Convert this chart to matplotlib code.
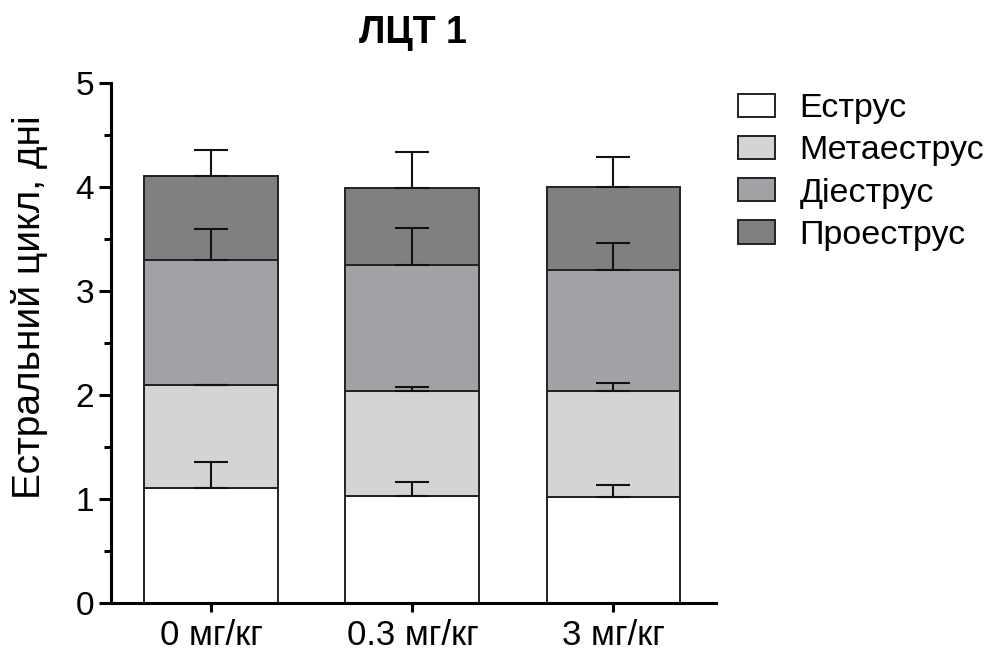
import matplotlib.pyplot as plt
import numpy as np
from matplotlib.patches import Patch

plt.rcParams['font.family'] = ['Liberation Sans', 'DejaVu Sans']

groups = ['0 мг/кг', '0.3 мг/кг', '3 мг/кг']
phases = ['Еструс', 'Метаеструс', 'Діеструс', 'Проеструс']

# mean days per phase (stacked) and SD for each dose group
estrus = [1.10, 1.03, 1.02]
metaestrus = [1.00, 1.01, 1.015]
diestrus = [1.20, 1.21, 1.165]
proestrus = [0.81, 0.745, 0.80]

estrus_sd = [0.253, 0.135, 0.11]
metaestrus_sd = [0.0, 0.04, 0.077]
diestrus_sd = [0.30, 0.356, 0.26]
proestrus_sd = [0.247, 0.347, 0.29]

colors = ['#ffffff', '#d4d4d4', '#a2a1a6', '#808080']

fig = plt.figure(figsize=(9.86, 6.52), dpi=100)
ax = fig.add_axes([0.1123, 0.0756, 0.6139, 0.7966])

x = np.arange(len(groups))
w = 0.666
bottom = np.zeros(len(groups))
tops = []
for vals, c in zip([estrus, metaestrus, diestrus, proestrus], colors):
    ax.bar(x, vals, w, bottom=bottom, color=c, edgecolor='#222222', linewidth=1.4, zorder=2)
    bottom = bottom + np.array(vals)
    tops.append(bottom.copy())

for top, sd in zip(tops, [estrus_sd, metaestrus_sd, diestrus_sd, proestrus_sd]):
    ax.errorbar(x, top, yerr=[np.zeros(len(sd)), sd], fmt='none', ecolor='#111111',
                elinewidth=1.5, capsize=12, capthick=1.5, zorder=3)

ax.set_xlim(-0.5, 2.51)
ax.set_ylim(0, 5)
ax.set_yticks([0, 1, 2, 3, 4, 5])
ax.set_yticks(np.arange(0.5, 5, 1.0), minor=True)
ax.set_xticks(x)
ax.set_xticklabels(groups, fontsize=25)
ax.tick_params(axis='y', labelsize=24, width=2.2, length=9, pad=3)
ax.tick_params(axis='y', which='minor', width=2.2, length=5)
ax.tick_params(axis='x', width=2.2, length=6.5, pad=5)

for s in ['top', 'right']:
    ax.spines[s].set_visible(False)
for s in ['left', 'bottom']:
    ax.spines[s].set_linewidth(2.2)

ax.set_ylabel('Естральний цикл, дні', fontsize=28)
ax.yaxis.set_label_coords(-0.1036, 0.569)
ax.set_title('ЛЦТ 1', fontsize=27, fontweight='bold', pad=29)

handles = [Patch(facecolor=c, edgecolor='#222222', linewidth=1.4) for c in colors]
fig.legend(handles, phases, loc='upper left', bbox_to_anchor=(0.7485, 0.857),
           frameon=False, fontsize=24.5, handlelength=1.09, handleheight=0.67,
           handletextpad=0.72, labelspacing=0.33, borderpad=0, borderaxespad=0)

plt.savefig('out.png', dpi=100)
